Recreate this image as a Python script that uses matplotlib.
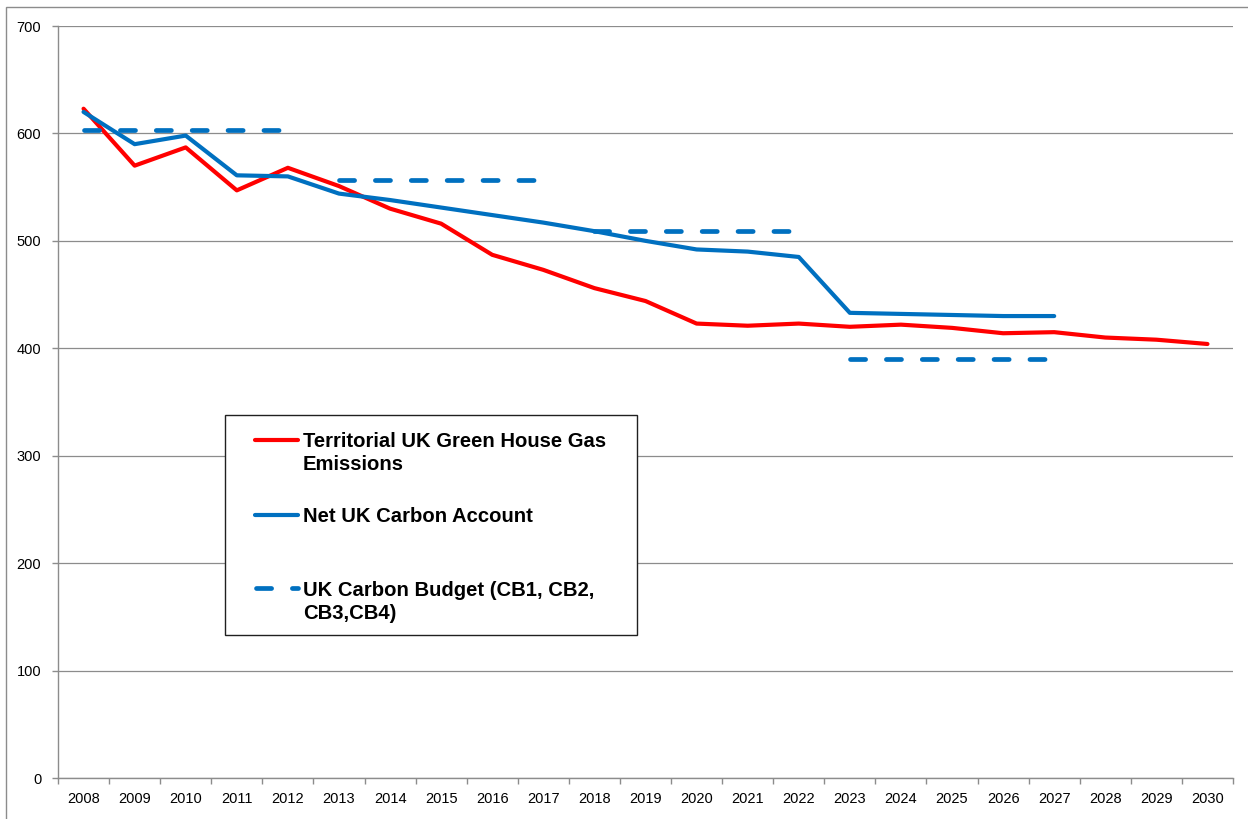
import numpy as np
from matplotlib import pyplot as plt
from matplotlib.patches import Rectangle

# data (MtCO2e)
years = [str(y) for y in range(2008, 2031)]
territorial = [623, 570, 587, 547, 568, 551, 530, 516, 487, 473, 456, 444,
               423, 421, 423, 420, 422, 419, 414, 415, 410, 408, 404]
net_account = [620, 590, 598, 561, 560, 544, 538, 531, 524, 517, 509, 500,
               492, 490, 485, 433, 432, 431, 430, 430]
budget_start = [2008, 2013, 2018, 2023]
budget_end = [2012, 2017, 2022, 2027]
budget_value = [603.6, 556.4, 508.8, 390.0]

red = "#FF0000"
blue = "#0070C0"
grey = "#8C8C8C"
plt.rcParams["font.family"] = ["Liberation Sans", "DejaVu Sans"]

fig = plt.figure(figsize=(12.48, 8.19), dpi=100)
ax = fig.add_axes([58 / 1248, 1 - 778 / 819, 1175 / 1248, 752 / 819])

x = np.arange(len(years))
ax.plot(x, territorial, color=red, lw=3.0, solid_joinstyle="round",
        solid_capstyle="round", zorder=3)
ax.plot(x[:len(net_account)], net_account, color=blue, lw=3.0,
        solid_joinstyle="round", solid_capstyle="round", zorder=3)

for s, e, v in zip(budget_start, budget_end, budget_value):
    i0 = years.index(str(s))
    i1 = years.index(str(e))
    ax.plot([i0, i1], [v, v], color=blue, lw=3.4, dashes=(3.2, 4.4),
            dash_capstyle="round", zorder=3)

# axes
ax.set_xlim(-0.5, len(years) - 0.5)
ax.set_ylim(0, 700)
ax.set_yticks(range(0, 701, 100))
ax.set_xticks(x)
ax.set_xticklabels(years)
ax.set_xticks(np.arange(-0.5, len(years), 1.0), minor=True)
ax.tick_params(axis="x", which="major", length=0, pad=10, labelsize=10.5)
ax.tick_params(axis="x", which="minor", length=4.5, width=1, color=grey,
               direction="out")
ax.tick_params(axis="y", length=4, width=1, color=grey, pad=8, labelsize=10.5)
ax.grid(axis="y", color=grey, lw=0.9)
ax.set_axisbelow(True)
for side in ["top", "right"]:
    ax.spines[side].set_visible(False)
for side in ["left", "bottom"]:
    ax.spines[side].set_color(grey)
    ax.spines[side].set_linewidth(1)

# legend box drawn like the spreadsheet one
ax.add_patch(Rectangle((0.1421, 0.1902), 0.3507, 0.2925, transform=ax.transAxes,
                       facecolor="white", edgecolor="#202020", lw=1.0,
                       zorder=5))
legend_items = [
    (["Territorial UK Green House Gas", "Emissions"], red, None, 0.4398),
    (["Net UK Carbon Account"], blue, None, 0.3400),
    (["UK Carbon Budget (CB1, CB2,", "CB3,CB4)"], blue, (3.2, 4.4), 0.2424),
]
line_step = 0.0306
for lines, col, dash, yb in legend_items:
    yh = yb + 0.0102
    if dash is None:
        ax.plot([0.1675, 0.2040], [yh, yh], color=col, lw=3.0,
                solid_capstyle="round", transform=ax.transAxes, zorder=6)
    else:
        ax.plot([0.1682, 0.2040], [yh, yh], color=col, lw=3.4, dashes=dash,
                dash_capstyle="round", transform=ax.transAxes, zorder=6)
    for k, line in enumerate(lines):
        ax.text(0.2083, yb - k * line_step, line, transform=ax.transAxes,
                fontsize=14.6, fontweight="bold", va="baseline", ha="left",
                zorder=6)

# outer chart border
fig.add_artist(Rectangle((6 / 1248, -0.1), 1.2, 1.1 - 7.5 / 819,
                         transform=fig.transFigure, fill=False,
                         edgecolor=grey, lw=1.0))

plt.savefig("out.png", dpi=100)
